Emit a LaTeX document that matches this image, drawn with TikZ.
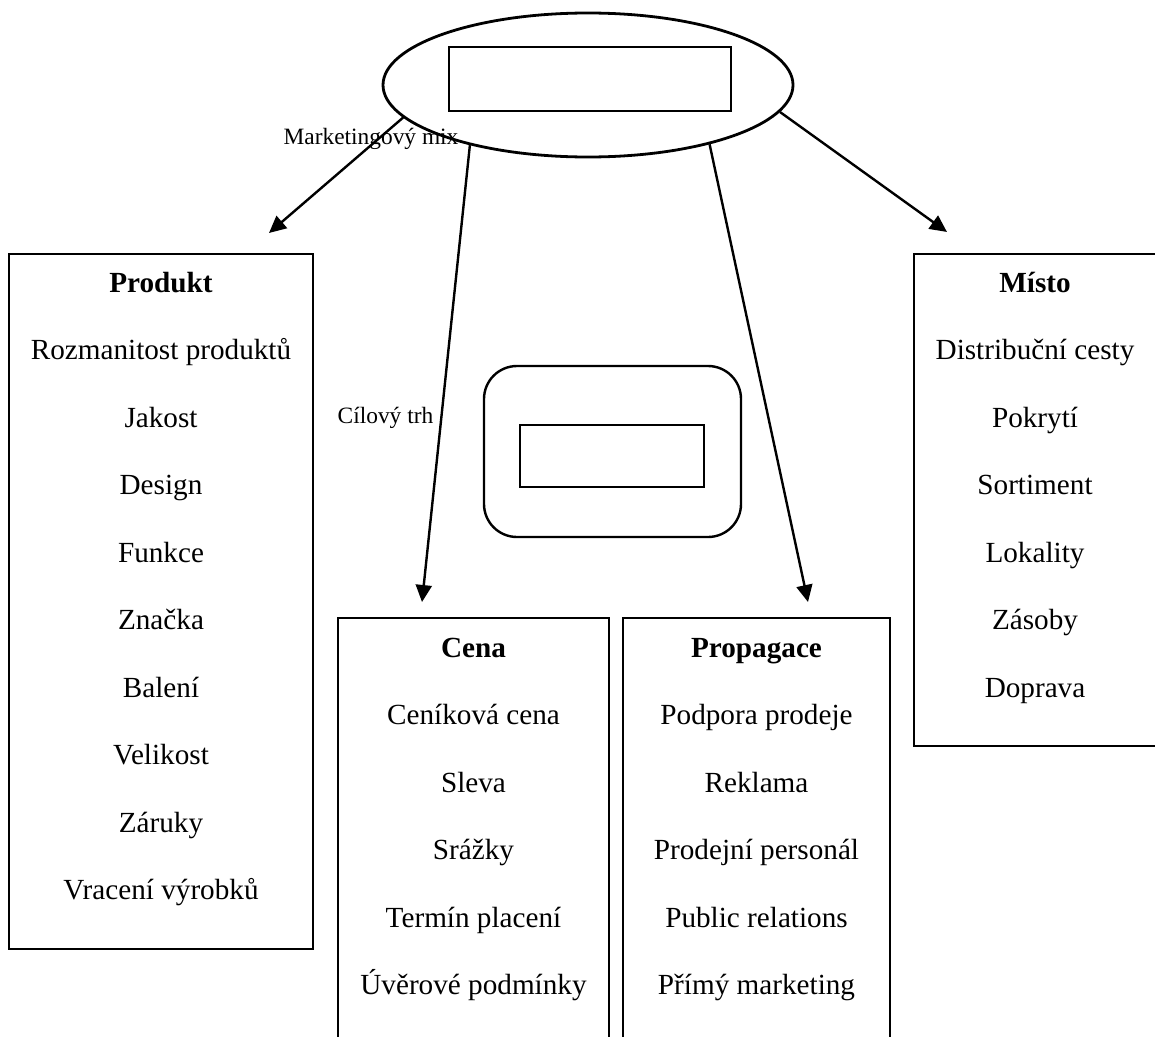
\documentclass[tikz,border=0pt]{standalone}
\usepackage{fontspec}
\setmainfont{Liberation Serif}
\usetikzlibrary{shapes.geometric,arrows.meta}
\tikzset{
    listbox/.style={draw, line width=1.8pt, inner sep=0pt},
    item/.style={anchor=base, inner sep=0pt, font=\fontsize{29.2}{35}\selectfont},
    head/.style={item, font=\fontsize{29.2}{35}\selectfont\bfseries},
    tag/.style={anchor=base, inner sep=0pt, font=\fontsize{23.4}{28}\selectfont},
    link/.style={line width=2.4pt, -{Triangle[length=17pt,width=16pt]}},
}
\begin{document}
\begin{tikzpicture}[x=1pt, y=-1pt]
        \path[use as bounding box, clip] (0,0) rectangle (1155,1036);
        % Draw the top ellipse and the centre frame
        \node[draw, ellipse, line width=2.8pt, inner sep=0pt, minimum width=410pt, minimum height=144pt] (mix) at (588,85) {};
        \node[draw, line width=1.8pt, inner sep=0pt, minimum width=282pt, minimum height=64pt] (mixin) at (590,79) {};
        \node[draw, line width=2.4pt, rounded corners=33pt, inner sep=0pt, minimum width=257pt, minimum height=171pt] (trh) at (612.5,451.5) {};
        \node[draw, line width=1.2pt, inner sep=0pt, minimum width=184pt, minimum height=62pt] (trhin) at (612,456) {};
        \node[tag] (mixlab) at (371,144) {Marketingový mix};
        \node[tag] (trhlab) at (385.5,423) {Cílový trh};
        % Draw the four boxes
        \node[listbox, minimum width=304pt, minimum height=695pt] (prod) at (161,601.5) {};
        \node[listbox, minimum width=271pt, minimum height=450pt] (cena) at (473.5,843) {};
        \node[listbox, minimum width=267pt, minimum height=450pt] (prop) at (756.5,843) {};
        \node[listbox, minimum width=246pt, minimum height=492pt] (misto) at (1037,500) {};
        % Draw the titles and the items
        \node[head] (prodh) at (161,292) {Produkt};
        \foreach \t [count=\k] in {Rozmanitost produktů, Jakost, Design, Funkce, Značka, Balení, Velikost, Záruky, Vracení výrobků} {
            \node[item] (prod\k) at (161,292+67.5*\k) {\t};
        }
        \node[head] (cenah) at (473.5,657) {Cena};
        \foreach \t [count=\k] in {Ceníková cena, Sleva, Srážky, Termín placení, Úvěrové podmínky} {
            \node[item] (cena\k) at (473.5,657+67.5*\k) {\t};
        }
        \node[head] (proph) at (756.5,657) {Propagace};
        \foreach \t [count=\k] in {Podpora prodeje, Reklama, Prodejní personál, Public relations, Přímý marketing} {
            \node[item] (prop\k) at (756.5,657+67.5*\k) {\t};
        }
        \node[head] (mistoh) at (1035,292) {Místo};
        \foreach \t [count=\k] in {Distribuční cesty, Pokrytí, Sortiment, Lokality, Zásoby, Doprava} {
            \node[item] (misto\k) at (1035,292+67.5*\k) {\t};
        }
        % Draw the arrows
        \coordinate (prodtip) at (269,233);
        \coordinate (cenatip) at (422,602);
        \coordinate (proptip) at (808,602);
        \coordinate (mistotip) at (947,232);
        \draw[link] (mix.190.8) -- (prodtip);
        \draw[link] (mix.207.8) -- (cenatip);
        \draw[link] (mix.334.6) -- (proptip);
        \draw[link] (mix.352) -- (mistotip);
    \end{tikzpicture}
\end{document}
